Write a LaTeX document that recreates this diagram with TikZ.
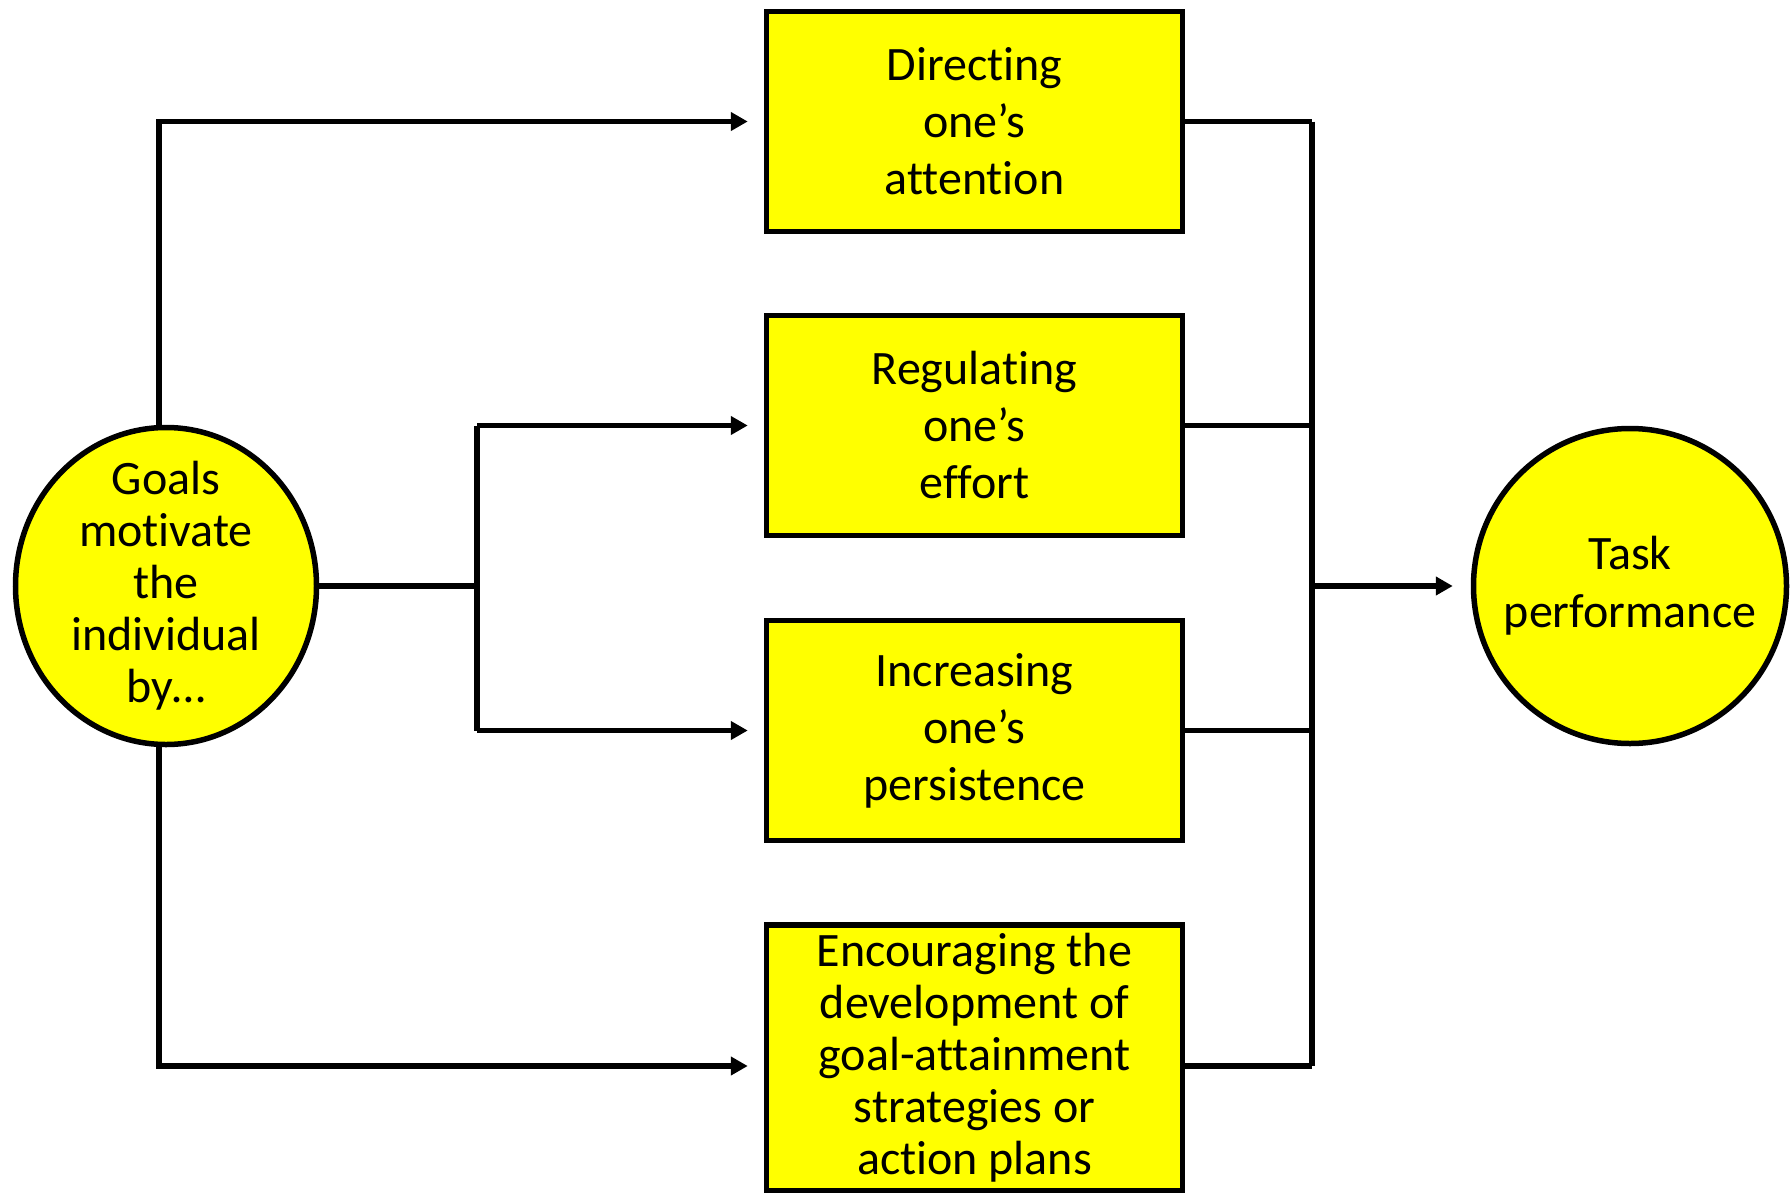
\documentclass[tikz,border=0pt]{standalone}
\usepackage{fontspec}
\setmainfont{Carlito}[Ligatures={NoCommon}]
\usetikzlibrary{arrows.meta,shapes.geometric}
\definecolor{boxyellow}{HTML}{FFFF00}
\begin{document}
\begin{tikzpicture}[x=1pt,y=-1pt,
  stepbox/.style={draw=black,line width=5.5pt,fill=boxyellow,rectangle,
    minimum width=416pt,inner sep=0pt,align=center,
    font=\fontsize{48}{57}\selectfont},
  roundnode/.style={draw=black,line width=5.5pt,fill=boxyellow,ellipse,inner sep=0pt},
  roundtext/.style={align=center,inner sep=0pt,font=\fontsize{48}{52}\selectfont},
  link/.style={line width=5.5pt,line cap=butt},
  arr/.style={link,-{Triangle[length=17pt,width=18pt]},shorten >=16pt}]
\useasboundingbox (0,0) rectangle (1791,1192);

% stages
\node[stepbox,minimum height=220pt] (B1) at (974.5,121.5) {Directing\\one’s\\attention};
\node[stepbox,minimum height=220pt] (B2) at (974.5,425.5) {Regulating\\one’s\\effort};
\node[stepbox,minimum height=220pt] (B3) at (974.5,730.5) {Increasing\\one’s\\persistence};
\node[stepbox,minimum height=266pt,font=\fontsize{48}{52}\selectfont] (B4) at (974.5,1058)
  {Encouraging the\\development of\\goal-attainment\\strategies or\\action plans};

% source and outcome
\node[roundnode,minimum width=301pt,minimum height=317pt] (G) at (166,586) {};
\node[roundtext] (Gtext) at (G.center) {Goals\\motivate\\the\\individual\\by…};
\node[roundnode,minimum width=313pt,minimum height=315pt] (T) at (1630,586) {};
\node[roundtext,font=\fontsize{48}{58}\selectfont] (Ttext) at (T.center) {Task\\performance};

% bus points
\coordinate (lbus) at (159,0);
\coordinate (mbus) at (477,0);
\coordinate (rbus) at (1312,0);
\coordinate (toprow) at (0,121.5);
\coordinate (botrow) at (0,1066);

% left side
\draw[arr] (G.north -| lbus) -- (lbus |- toprow) -- (B1.west);
\draw[arr] (G.south -| lbus) -- (lbus |- botrow) -- (B4.west |- botrow);
\draw[link] (G.east) -- (mbus |- G.east);
\draw[link] (mbus |- B2.west) -- (mbus |- B3.west);
\draw[arr] (mbus |- B2.west) -- (B2.west);
\draw[arr] (mbus |- B3.west) -- (B3.west);

% right side
\draw[link] (B1.east) -- (rbus |- B1.east);
\draw[link] (B2.east) -- (rbus |- B2.east);
\draw[link] (B3.east) -- (rbus |- B3.east);
\draw[link] (B4.east |- botrow) -- (rbus |- botrow);
\draw[link] (rbus |- B1.east) -- (rbus |- botrow);
\draw[arr,shorten >=18pt] (rbus |- T.west) -- (T.west);
\end{tikzpicture}
\end{document}
